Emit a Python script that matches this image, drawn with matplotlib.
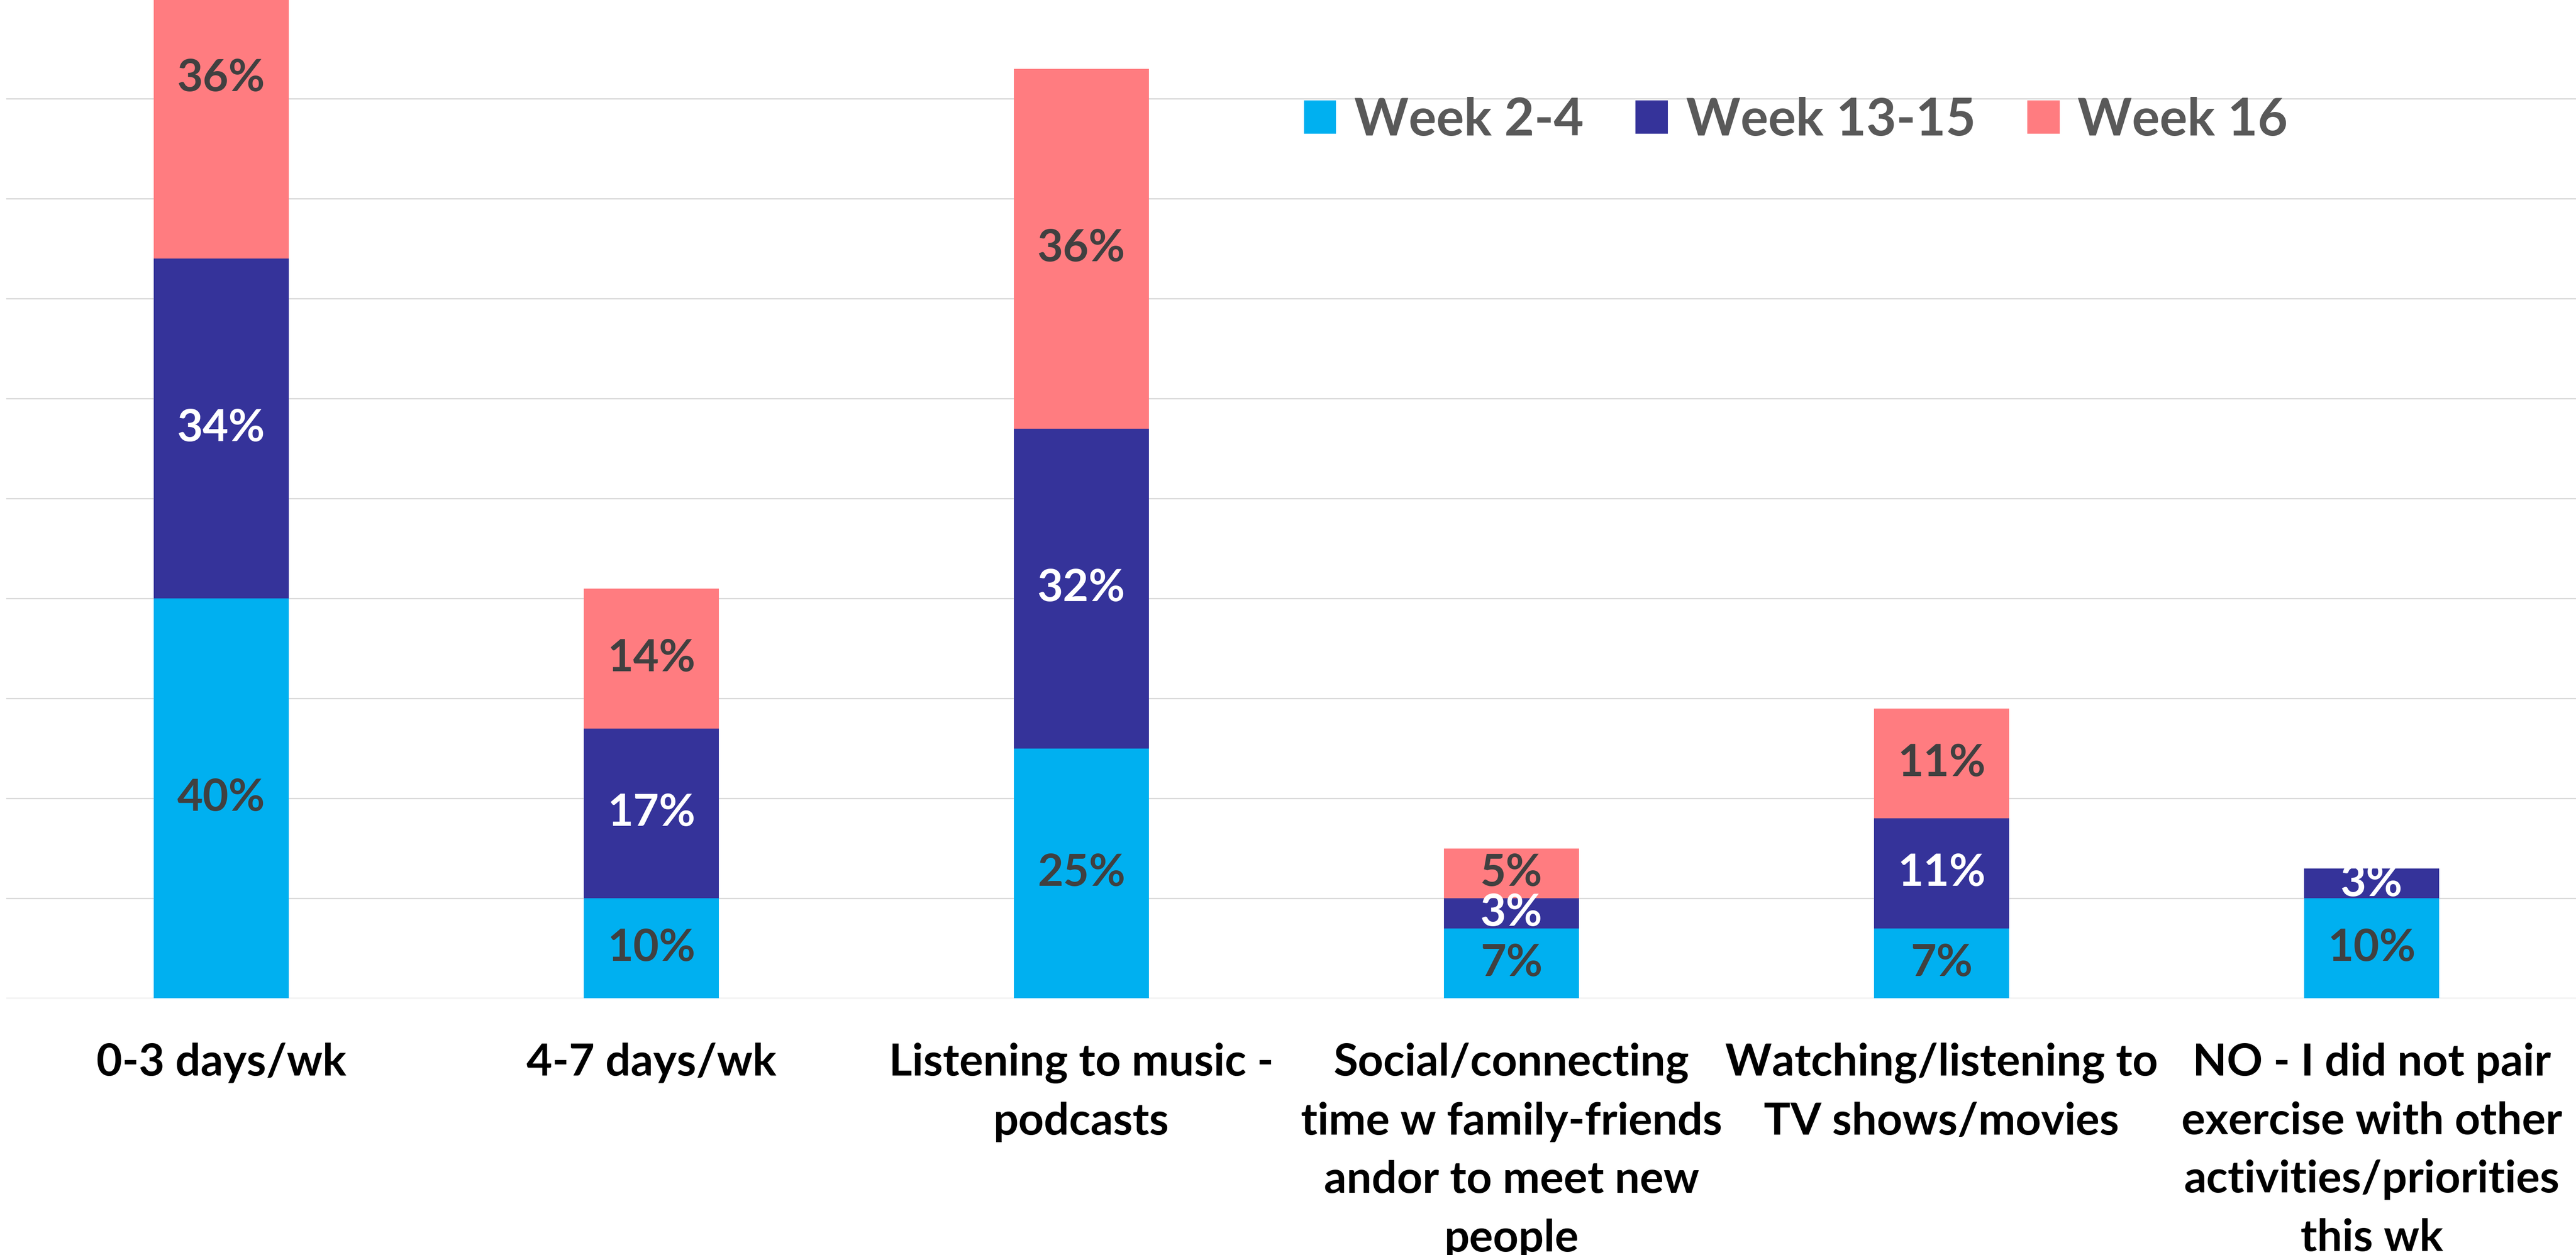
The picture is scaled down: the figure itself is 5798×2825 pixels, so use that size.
import matplotlib
matplotlib.use("Agg")
import matplotlib.pyplot as plt
from matplotlib.patches import Patch
import numpy as np

plt.rcParams["font.family"] = ["Lato", "DejaVu Sans"]

categories = [
    "0-3 days/wk",
    "4-7 days/wk",
    "Listening to music -\npodcasts",
    "Social/connecting\ntime w family-friends\nandor to meet new\npeople",
    "Watching/listening to\nTV shows/movies",
    "NO - I did not pair\nexercise with other\nactivities/priorities\nthis wk",
]
series_names = ["Week 2-4", "Week 13-15", "Week 16"]
week_2_4 = [40, 10, 25, 7, 7, 10]
week_13_15 = [34, 17, 32, 3, 11, 3]
week_16 = [36, 14, 36, 5, 11, 0]

colors = ["#00B0F0", "#35339A", "#FF7C80"]
label_colors = ["#404040", "#FFFFFF", "#404040"]

W, H = 5798, 2825
fig = plt.figure(figsize=(W / 100, H / 100), dpi=100)
ax = fig.add_axes([14 / W, 578 / H, 5808 / W, 2250 / H])

x = np.arange(len(categories))
bottom = np.zeros(len(categories))
for vals, name, col, lcol in zip([week_2_4, week_13_15, week_16], series_names, colors, label_colors):
    vals = np.array(vals, dtype=float)
    ax.bar(x, vals, width=0.314, bottom=bottom, color=col, zorder=3, label=name)
    for xi, b, v in zip(x, bottom, vals):
        if v > 0:
            ax.text(xi, b + v / 2, f"{int(v)}%", ha="center", va="center",
                    fontsize=72, fontweight="bold", color=lcol, zorder=4)
    bottom += vals

ax.set_xlim(-0.5, 5.5)
ax.set_ylim(0, 100)
ax.set_yticks(np.arange(0, 101, 10))
ax.yaxis.grid(True, color="#D9D9D9", lw=2.2, zorder=0)
ax.tick_params(left=False, labelleft=False, bottom=False, length=0)
for s in ax.spines.values():
    s.set_visible(False)
ax.set_xticks(x)
ax.set_xticklabels(categories, fontsize=72, fontweight="bold", color="black",
                   va="top", linespacing=1.55)
ax.tick_params(axis="x", pad=72)

handles = [Patch(facecolor=c, label=n) for c, n in zip(colors, series_names)]
leg = fig.legend(handles=handles, loc="center left", ncol=3, frameon=False,
                 bbox_to_anchor=(2935 / W, 1 - 271 / H), fontsize=84,
                 handlelength=0.62, handleheight=0.62, handletextpad=0.35,
                 columnspacing=1.0, borderaxespad=0, borderpad=0)
for t in leg.get_texts():
    t.set_color("#595959")
    t.set_fontweight("bold")

fig.savefig("out.png", dpi=100, facecolor="white")
